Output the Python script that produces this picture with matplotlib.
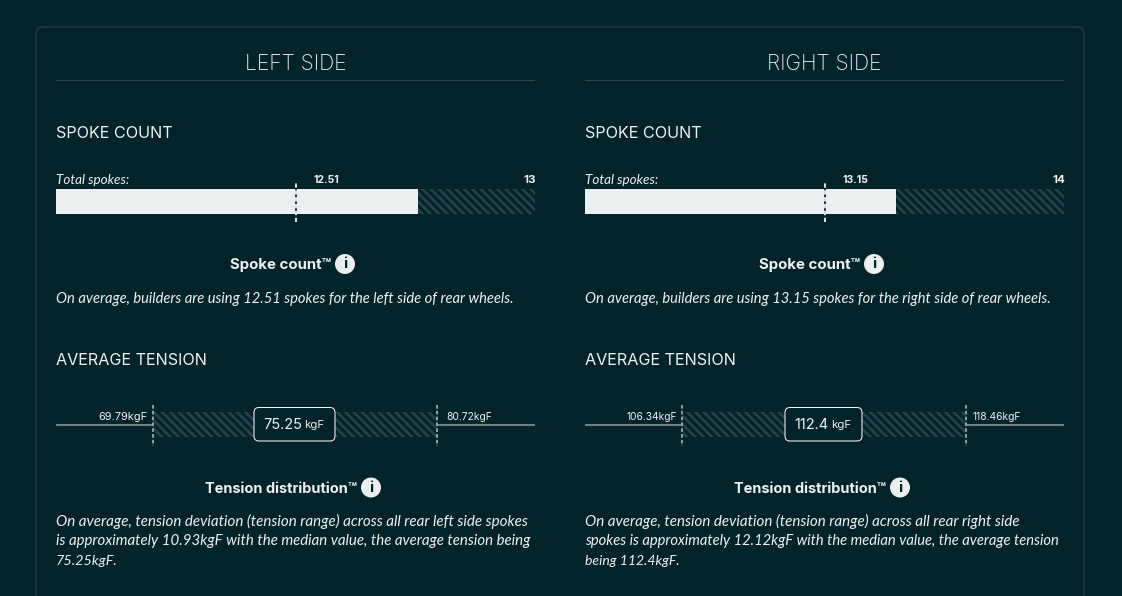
import matplotlib
matplotlib.use("Agg")
import matplotlib.pyplot as plt
from matplotlib.patches import FancyBboxPatch, Circle

# 1. Data
side_titles = ["LEFT SIDE", "RIGHT SIDE"]
spoke_values = [12.51, 13.15]
spoke_axis_min = [11.0, 11.58]
spoke_axis_max = [13, 14]
tension_low = [69.79, 106.34]
tension_high = [80.72, 118.46]
tension_mid = [75.25, 112.4]
tension_axis_min = [66.06, 102.20]
tension_axis_max = [84.49, 122.64]
spoke_notes = [
    "On average, builders are using 12.51 spokes for the left side of rear wheels.",
    "On average, builders are using 13.15 spokes for the right side of rear wheels.",
]
tension_notes = [
    ["On average, tension deviation (tension range) across all rear left side spokes",
     "is approximately 10.93kgF with the median value, the average tension being",
     "75.25kgF."],
    ["On average, tension deviation (tension range) across all rear right side",
     "spokes is approximately 12.12kgF with the median value, the average tension",
     "being 112.4kgF."],
]

# 2. Colours and fonts
BG = "#03232b"
LINE = "#2a444b"
HATCH = "#24424b"
BAR = "#ebefef"
TXT = "#eef2f2"
FONT = "Inter"
ITALIC = "Lato"
W, H = 1122, 596

# Lato is narrower in places than the original font, so sizes vary a little per line
note_sizes = [[15.1, 14.97, 14.4], [15.1, 14.8, 14.0]]
low_label_sizes = [11, 10.2]
high_label_sizes = [10.3, 10.3]
low_label_gap = [-4, -3.5]
high_label_gap = [6.5, 4.7]

plt.rcParams["hatch.linewidth"] = 2.0
fig = plt.figure(figsize=(W / 100, H / 100), dpi=100, facecolor=BG)

# overlay in pixel units for the page furniture and text
page = fig.add_axes([0, 0, 1, 1])
page.set_xlim(0, W)
page.set_ylim(H, 0)
page.axis("off")


def px_axes(x0, y0, x1, y1):
    ax = fig.add_axes([x0 / W, 1 - y1 / H, (x1 - x0) / W, (y1 - y0) / H])
    ax.axis("off")
    ax.patch.set_alpha(0)
    return ax


def txt(x, y, s, size, **kw):
    kw.setdefault("color", TXT)
    kw.setdefault("family", FONT)
    kw.setdefault("va", "center")
    page.text(x, y, s, fontsize=size * 0.72, **kw)


def dashed(ax, x, y0, y1, color=TXT, lw=1.1):
    ax.plot([x, x], [y0, y1], color=BG, lw=lw, clip_on=False, zorder=4)
    ax.plot([x, x], [y0, y1], color=color, lw=lw, clip_on=False, zorder=5,
            dashes=(2.4, 1.4))


def info(x, y):
    page.add_patch(Circle((x, y), 10, facecolor=BAR, edgecolor="none"))
    txt(x, y + 0.5, "i", 15, color=BG, ha="center", weight="bold")


page.add_patch(FancyBboxPatch((36, 27), 1048, 640, boxstyle="round,pad=0,rounding_size=7",
                              facecolor="none", edgecolor=LINE, lw=0.75))

for i, left in enumerate([56, 585]):
    right = left + 479
    center = left + 239.5

    txt(center, 64.5, side_titles[i], 21, ha="center", weight="light")
    page.plot([left, right - 1], [79.5, 79.5], color=LINE, lw=0.75)
    txt(left, 133.5, "SPOKE COUNT", 16.2)

    # spoke bar
    txt(left, 179.5, "Total spokes:", 13.5, family=ITALIC, style="italic")
    ax = px_axes(left, 189, right, 214)
    ax.set_xlim(spoke_axis_min[i], spoke_axis_max[i])
    ax.set_ylim(0, 25)
    ax.barh(12.5, spoke_values[i] - spoke_axis_min[i], height=25,
            left=spoke_axis_min[i], color=BAR)
    ax.barh(12.5, spoke_axis_max[i] - spoke_values[i], height=25, left=spoke_values[i],
            facecolor="none", edgecolor=HATCH, hatch="\\\\\\\\", lw=0)
    dashed(ax, (spoke_axis_min[i] + spoke_axis_max[i]) / 2, -8, 32, lw=1.3)
    mid_px = [326.5, 855.5][i]
    txt(mid_px, 180, f"{spoke_values[i]:g}", 10.5, ha="center", weight="bold")
    txt(right + 1, 180, f"{spoke_axis_max[i]}", 11.5, ha="right", weight="bold")

    txt(center - 14.5, 265, "Spoke count™", 15, ha="center", weight="bold")
    info(center + 49.5, 264)
    txt(left, 298.5, spoke_notes[i], 14.7, family=ITALIC, style="italic")

    txt(left, 360.5, "AVERAGE TENSION", 16.2)

    # tension range
    ax = px_axes(left, 412, right, 437)
    ax.set_xlim(tension_axis_min[i], tension_axis_max[i])
    ax.set_ylim(25, 0)
    ax.plot([tension_axis_min[i], tension_low[i]], [13, 13], color="#6d8083", lw=1.5,
            solid_capstyle="butt")
    ax.plot([tension_high[i], tension_axis_max[i]], [13, 13], color="#6d8083", lw=1.5,
            solid_capstyle="butt")
    ax.barh(12.5, tension_high[i] - tension_low[i], height=25, left=tension_low[i],
            facecolor="none", edgecolor=HATCH, hatch="\\\\\\\\", lw=0)
    dashed(ax, tension_low[i], -7, 34, color="#b4c1c3")
    dashed(ax, tension_high[i], -7, 34, color="#b4c1c3")
    ax.annotate(f"{tension_low[i]:g}kgF", (tension_low[i], 4.5), xytext=(low_label_gap[i], 0),
                textcoords="offset points", ha="right", va="center", color=TXT,
                fontsize=low_label_sizes[i] * 0.72, family=FONT, annotation_clip=False)
    ax.annotate(f"{tension_high[i]:g}kgF", (tension_high[i], 4.5), xytext=(high_label_gap[i], 0),
                textcoords="offset points", ha="left", va="center", color=TXT,
                fontsize=high_label_sizes[i] * 0.72, family=FONT, annotation_clip=False)

    box_half = [40.5, 38.5][i]
    box_cx = [294.5, 823.5][i]
    page.add_patch(FancyBboxPatch((box_cx - box_half, 407.5), box_half * 2, 33.5,
                                  boxstyle="round,pad=0,rounding_size=5", facecolor=BG,
                                  edgecolor=TXT, lw=0.75, zorder=6))
    page.set_zorder(3)
    txt(box_cx - [12, 12.5][i], 425, f"{tension_mid[i]:g}", 14.5, ha="center", zorder=7)
    txt(box_cx + [19.5, 17.5][i], 425.5, "kgF", 11.5, ha="center", zorder=7)

    txt(center - 14, 489, "Tension distribution™", 14.6, ha="center", weight="bold")
    info(center + 75.5, 487.5)
    for j, line in enumerate(tension_notes[i]):
        txt(left, 521 + j * 20, line, note_sizes[i][j], family=ITALIC, style="italic")

fig.savefig("out.png", dpi=100, facecolor=BG)
